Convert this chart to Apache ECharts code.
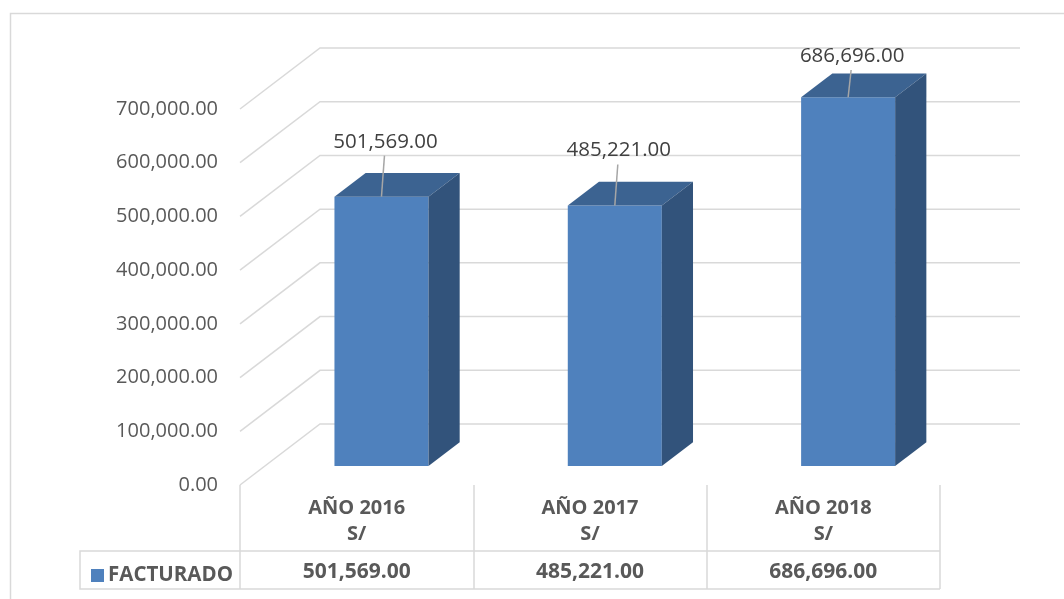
<!DOCTYPE html>
<html>
<head>
<meta charset="utf-8">
<style>
  html, body { margin: 0; padding: 0; background: #fff; }
  #chart { width: 1064px; height: 599px; }
</style>
<script src="https://cdn.jsdelivr.net/npm/echarts@6/dist/echarts.min.js"></script>
</head>
<body>
<div id="chart"></div>
<script>
// Facturación anual (S/)
const categories = ['AÑO 2016', 'AÑO 2017', 'AÑO 2018'];
const currency = 'S/';
const seriesName = 'FACTURADO';
const facturado = [501569.00, 485221.00, 686696.00];
const yTicks = [0, 100000, 200000, 300000, 400000, 500000, 600000, 700000];

const FONT = '"Open Sans", "DejaVu Sans", sans-serif';
const TEXT = '#595959';
const GRID = '#d9d9d9';

// Oblique depth of the back wall, and where the bars sit inside that depth
const WALL_DX = 80, WALL_DY = -61;
const BAR_FRONT = 0.31, BAR_BACK = 0.70;
const BAR_WIDTH = 0.403;

function fmt(v) {
  const parts = v.toFixed(2).split('.');
  parts[0] = parts[0].replace(/\B(?=(\d{3})+(?!\d))/g, ',');
  return parts.join('.');
}

const chart = echarts.init(document.getElementById('chart'), null, { renderer: 'canvas' });

const option = {
  backgroundColor: '#ffffff',
  animation: false,
  textStyle: { fontFamily: FONT },
  legend: {
    data: [seriesName],
    left: 86,
    top: 560,
    icon: 'rect',
    itemWidth: 13,
    itemHeight: 13,
    itemGap: 6,
    textStyle: { fontFamily: FONT, fontSize: 20.5, fontWeight: 'bold', color: TEXT, padding: [0, 0, 0, -1] }
  },
  grid: { left: 240, top: 109, width: 700, height: 376 },
  xAxis: [
    {
      type: 'category',
      data: categories,
      position: 'bottom',
      axisLine: { show: false },
      axisTick: { show: true, alignWithLabel: false, length: 104, lineStyle: { color: GRID, width: 1.5 } },
      axisLabel: {
        margin: 10,
        fontFamily: FONT,
        fontSize: 20,
        fontWeight: 'bold',
        color: TEXT,
        lineHeight: 26,
        formatter: c => c + '\n' + currency
      },
      splitLine: { show: false }
    },
    {
      type: 'category',
      data: facturado.map(fmt),
      position: 'bottom',
      axisLine: { show: false },
      axisTick: { show: false },
      axisLabel: {
        margin: 75,
        fontFamily: FONT,
        fontSize: 21,
        fontWeight: 'bold',
        color: TEXT,
        lineHeight: 24
      },
      splitLine: { show: false }
    }
  ],
  yAxis: {
    type: 'value',
    min: 0,
    max: 700000,
    interval: 100000,
    axisLine: { show: false },
    axisTick: { show: false },
    splitLine: { show: false },
    axisLabel: {
      margin: 22,
      fontFamily: FONT,
      fontSize: 20,
      color: TEXT,
      padding: [4, 0, 0, 0],
      formatter: v => fmt(v)
    }
  },
  graphic: [
    // outer chart frame
    { type: 'rect', shape: { x: 10.5, y: 13.5, width: 1080, height: 620 }, style: { fill: null, stroke: GRID, lineWidth: 1.5 }, silent: true, z: -10 },
    // data table rules
    { type: 'polyline', shape: { points: [[940, 551], [80, 551], [80, 589], [940, 589]] }, style: { fill: null, stroke: GRID, lineWidth: 1.5 }, silent: true }
  ],
  series: [
    {
      // back wall gridlines with their oblique floor/side returns
      type: 'custom',
      name: 'walls',
      silent: true,
      z: 1,
      data: yTicks.map(v => [0, v]),
      renderItem: function (params, api) {
        const cs = params.coordSys;
        const y = api.coord([0, api.value(1)])[1];
        return {
          type: 'polyline',
          shape: { points: [[cs.x, y], [cs.x + WALL_DX, y + WALL_DY], [cs.x + cs.width + WALL_DX, y + WALL_DY]] },
          style: { fill: null, stroke: GRID, lineWidth: 1.5 }
        };
      }
    },
    {
      type: 'custom',
      name: seriesName,
      color: '#4f81bd',
      z: 3,
      data: facturado.map((v, i) => [i, v]),
      renderItem: function (params, api) {
        const i = api.value(0), v = api.value(1);
        const base = api.coord([i, 0]);
        const top = api.coord([i, v]);
        const band = api.size([1, 0])[0];
        const w = band * BAR_WIDTH;
        const fx = WALL_DX * BAR_FRONT, fy = WALL_DY * BAR_FRONT;
        const bx = WALL_DX * BAR_BACK, by = WALL_DY * BAR_BACK;
        const x0 = base[0] - w / 2 + fx, x1 = base[0] + w / 2 + fx;
        const yb = base[1] + fy, yt = top[1] + fy;
        const dx = bx - fx, dy = by - fy;
        const cx = (x0 + x1) / 2;
        const labelY = Math.max(yt - 55, 56);
        return {
          type: 'group',
          children: [
            { type: 'polygon', shape: { points: [[x0, yb], [x1, yb], [x1, yt], [x0, yt]] }, style: { fill: '#4f81bd' } },
            { type: 'polygon', shape: { points: [[x0, yt], [x1, yt], [x1 + dx, yt + dy], [x0 + dx, yt + dy]] }, style: { fill: '#3c6391' } },
            { type: 'polygon', shape: { points: [[x1, yb], [x1 + dx, yb + dy], [x1 + dx, yt + dy], [x1, yt]] }, style: { fill: '#32537b' } },
            { type: 'line', shape: { x1: cx + 3, y1: labelY + 14, x2: cx, y2: yt }, style: { stroke: '#a6a6a6', lineWidth: 1.5 }, z2: 5 },
            { type: 'text', x: cx + 4, y: labelY, style: { text: fmt(v), fontFamily: FONT, fontSize: 20.5, fill: '#404040', align: 'center', verticalAlign: 'middle' }, z2: 6 }
          ]
        };
      }
    }
  ]
};

chart.setOption(option);
</script>
</body>
</html>
